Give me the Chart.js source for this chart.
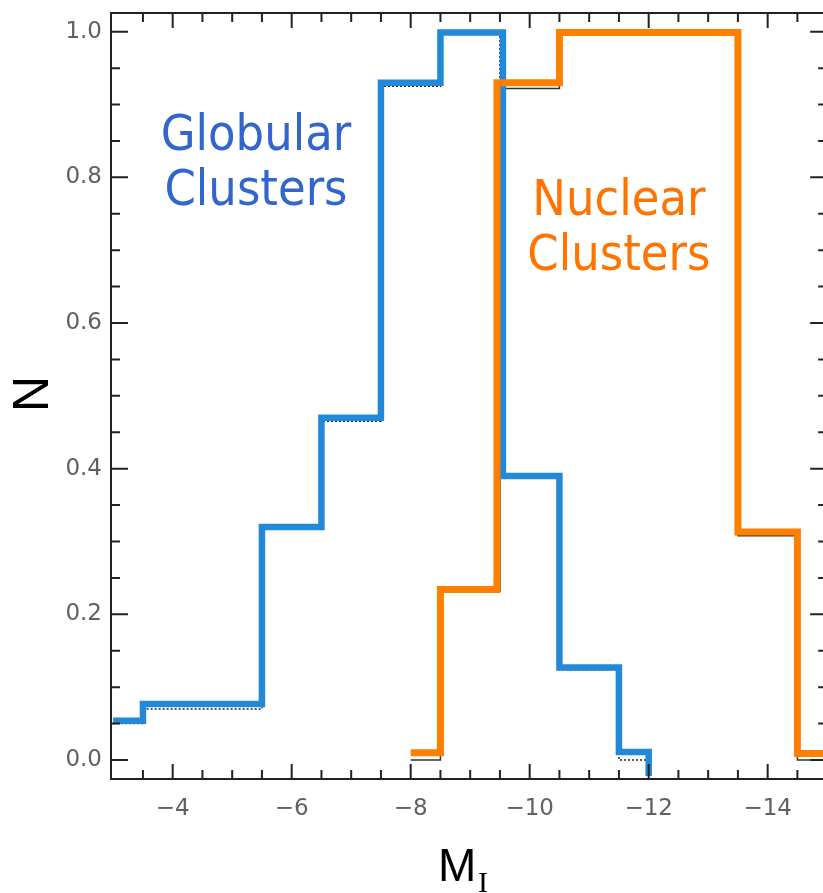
<!DOCTYPE html>
<html><head><meta charset="utf-8">
<script src="https://cdn.jsdelivr.net/npm/chart.js@4"></script>
<style>html,body{margin:0;padding:0;background:#fff;}canvas{display:block;}</style>
</head><body>
<canvas id="c" width="823" height="893"></canvas>
<script>
// Globular clusters: step edges (M_I) and normalized N (coloured overlay)
const globEdges  = [-3.0, -3.5, -5.5, -6.5, -7.5, -8.5, -9.55, -10.5, -11.5, -12.0];
const globValues = [0.054, 0.077, 0.320, 0.470, 0.930, 0.999, 0.390, 0.127, 0.011, -0.022];
// Nuclear clusters: step edges and normalized N (coloured overlay)
const nucEdges  = [-8.0, -8.5, -9.45, -10.5, -13.5, -14.5, -15.0];
const nucValues = [0.010, 0.234, 0.930, 0.999, 0.313, 0.009, 0.009];
// Underlying thin black histograms
const globRawEdges  = [-3.0, -3.5, -5.5, -6.5, -7.5, -8.5, -9.5, -10.5, -11.5, -12.0];
const globRawValues = [0.050, 0.070, 0.317, 0.465, 0.925, 0.998, 0.387, 0.124, 0.0, 0.0];
const nucRawEdges  = [-8.0, -8.5, -9.5, -10.5, -13.5, -14.5, -15.0];
const nucRawValues = [0.0, 0.232, 0.922, 0.998, 0.308, 0.0, 0.0];
// Tick labels
const xTickValues = [-4, -6, -8, -10, -12, -14];
const yTickValues = [0.0, 0.2, 0.4, 0.6, 0.8, 1.0];
// Annotation texts
const globLabel = ['Globular', 'Clusters'];
const nucLabel = ['Nuclear', 'Clusters'];

const toPts = (xs, ys) => xs.map((x, i) => ({x: x, y: ys[i]}));

const framePlugin = {
  id: 'frame',
  afterDraw(chart) {
    const {ctx, chartArea: a, scales: {x, y}} = chart;
    ctx.save();
    ctx.strokeStyle = '#222';
    ctx.lineWidth = 2;
    const xr = x.getPixelForValue(-15);
    ctx.beginPath();
    ctx.moveTo(a.left, a.bottom); ctx.lineTo(xr, a.bottom);
    ctx.moveTo(a.left, a.top); ctx.lineTo(xr, a.top);
    ctx.moveTo(a.left, a.top - 1); ctx.lineTo(a.left, a.bottom + 1);
    ctx.moveTo(xr, a.top); ctx.lineTo(xr, a.bottom);
    // x ticks every 0.5, major every 2
    for (let k = 1; k < 24; k++) {
      const v = -3 - 0.5 * k;
      const p = x.getPixelForValue(v);
      const major = Math.abs(v / 2 - Math.round(v / 2)) < 1e-6;
      const L = major ? 15 : 9;
      ctx.moveTo(p, a.bottom); ctx.lineTo(p, a.bottom - L);
      ctx.moveTo(p, a.top); ctx.lineTo(p, a.top + L);
    }
    // y ticks every 0.05, major every 0.2
    for (let k = 0; k <= 20; k++) {
      const v = k * 0.05;
      const p = y.getPixelForValue(v);
      const major = Math.abs(v / 0.2 - Math.round(v / 0.2)) < 1e-6;
      const L = major ? 17 : 9;
      ctx.moveTo(a.left, p); ctx.lineTo(a.left + L, p);
      ctx.moveTo(xr, p); ctx.lineTo(xr - L, p);
    }
    ctx.stroke();

    // annotations
    ctx.textAlign = 'center';
    ctx.textBaseline = 'alphabetic';
    ctx.font = '50px "DejaVu Sans Condensed", "DejaVu Sans"';
    ctx.fillStyle = '#3366cc';
    ctx.fillText(globLabel[0], x.getPixelForValue(-5.40), y.getPixelForValue(0.838));
    ctx.fillText(globLabel[1], x.getPixelForValue(-5.40), y.getPixelForValue(0.762));
    ctx.fillStyle = '#ff7300';
    ctx.fillText(nucLabel[0], x.getPixelForValue(-11.50), y.getPixelForValue(0.748));
    ctx.fillText(nucLabel[1], x.getPixelForValue(-11.50), y.getPixelForValue(0.673));

    // axis titles
    ctx.fillStyle = '#000';
    ctx.font = '46px "Liberation Sans", Arial, sans-serif';
    ctx.textAlign = 'left';
    ctx.fillText('M', 438, 881);
    ctx.font = '30px "Liberation Serif", serif';
    ctx.fillText('I', 478, 892);
    ctx.save();
    ctx.translate(48, 394);
    ctx.rotate(-Math.PI / 2);
    ctx.textAlign = 'center';
    ctx.font = '50px "Liberation Sans", Arial, sans-serif';
    ctx.fillText('N', 0, 0);
    ctx.restore();
    ctx.restore();
  }
};

const tickFont = {family: 'DejaVu Sans', size: 23};
new Chart(document.getElementById('c').getContext('2d'), {
  type: 'line',
  data: {
    datasets: [
      {label: 'Nuclear Clusters', data: toPts(nucEdges, nucValues), borderColor: '#ff7f00',
       borderWidth: 7, stepped: 'before', pointRadius: 0, fill: false, order: 0, borderJoinStyle: 'miter'},
      {label: 'Globular Clusters', data: toPts(globEdges, globValues), borderColor: '#2288d8',
       borderWidth: 6.5, stepped: 'before', pointRadius: 0, fill: false, order: 1, borderJoinStyle: 'miter'},
      {label: 'Nuclear raw', data: toPts(nucRawEdges, nucRawValues), borderColor: '#333',
       borderWidth: 1.5, stepped: 'before', pointRadius: 0, fill: false, order: 2},
      {label: 'Globular raw', data: toPts(globRawEdges, globRawValues), borderColor: '#222',
       borderWidth: 1.5, borderDash: [2, 2], stepped: 'before', pointRadius: 0, fill: false, order: 3}
    ]
  },
  options: {
    responsive: false, animation: false, devicePixelRatio: 1,
    layout: {padding: {top: 13, left: 0, right: 0, bottom: 0}},
    plugins: {legend: {display: false}, tooltip: {enabled: false}},
    scales: {
      x: {
        type: 'linear', reverse: true, min: -14.93, max: -2.963,
        grid: {display: false, drawTicks: false}, border: {display: false},
        ticks: {font: tickFont, color: '#606060', padding: 16, maxRotation: 0, autoSkip: false,
                callback: v => (v < 0 ? '\u2212' + Math.abs(v) : String(v))},
        afterBuildTicks: s => { s.ticks = xTickValues.map(v => ({value: v})); },
        afterFit: s => { s.height = 114; s.paddingLeft = 0; s.paddingRight = 0; }
      },
      y: {
        type: 'linear', min: -0.0261, max: 1.0257,
        grid: {display: false, drawTicks: false}, border: {display: false},
        ticks: {font: tickFont, color: '#606060', padding: 9, autoSkip: false,
                callback: v => Number(v).toFixed(1)},
        afterBuildTicks: s => { s.ticks = yTickValues.map(v => ({value: v})); },
        afterFit: s => { s.width = 111; s.paddingTop = 0; s.paddingBottom = 0; }
      }
    }
  },
  plugins: [framePlugin]
});
</script>
</body></html>
